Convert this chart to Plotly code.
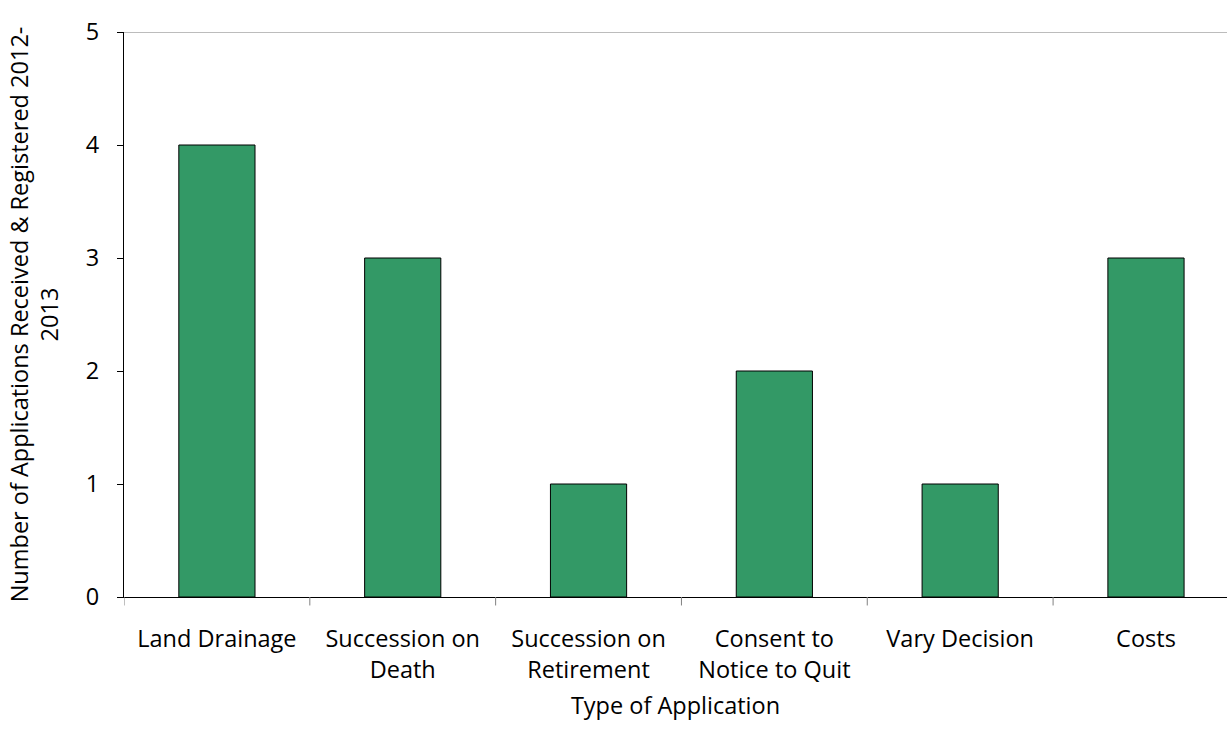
import plotly.graph_objects as go

categories = ["Land Drainage", "Succession on<br>Death", "Succession on<br>Retirement",
              "Consent to<br>Notice to Quit", "Vary Decision", "Costs"]
values = [4, 3, 1, 2, 1, 3]
y_ticks = [0, 1, 2, 3, 4, 5]

FONT = "Open Sans"
FS = 23.5

fig = go.Figure(go.Bar(
    x=list(range(len(categories))), y=values,
    marker=dict(color="#339966", line=dict(color="#000000", width=1)),
    width=0.41,
))

fig.add_shape(type="line", xref="paper", yref="y", x0=0, x1=1, y0=5, y1=5,
              line=dict(color="#A6A6A6", width=1.5), layer="below")

fig.update_layout(
    width=1227, height=740,
    margin=dict(l=124, r=0, t=32, b=143),
    plot_bgcolor="white", paper_bgcolor="white",
    font=dict(family=FONT, size=FS, color="#000000"),
    showlegend=False,
    xaxis=dict(
        range=[-0.5, 5.436],
        tickmode="array", tickvals=list(range(len(categories))), ticktext=categories,
        showline=True, linecolor="#000000", linewidth=1,
        ticks="", showgrid=False, zeroline=False,
        ticklabelstandoff=21,
        title=dict(text="Type of Application", standoff=13, font=dict(size=FS)),
        tickfont=dict(size=FS),
    ),
    yaxis=dict(
        range=[0, 5], tickvals=y_ticks,
        showline=True, linecolor="#000000", linewidth=1,
        ticks="outside", ticklen=6, tickcolor="#000000",
        showgrid=False, zeroline=False,
        ticklabelstandoff=13,
        title=dict(text="Number of Applications Received & Registered 2012-<br>2013", standoff=20,
                   font=dict(size=FS)),
        tickfont=dict(size=FS),
    ),
)

# category boundary ticks on the x axis
for b in [i - 0.5 for i in range(len(categories) + 1)]:
    fig.add_shape(type="line", xref="x", yref="paper", x0=b, x1=b, y0=0, y1=-0.015,
                  line=dict(color="#808080", width=1))

fig.write_html("out.html")
